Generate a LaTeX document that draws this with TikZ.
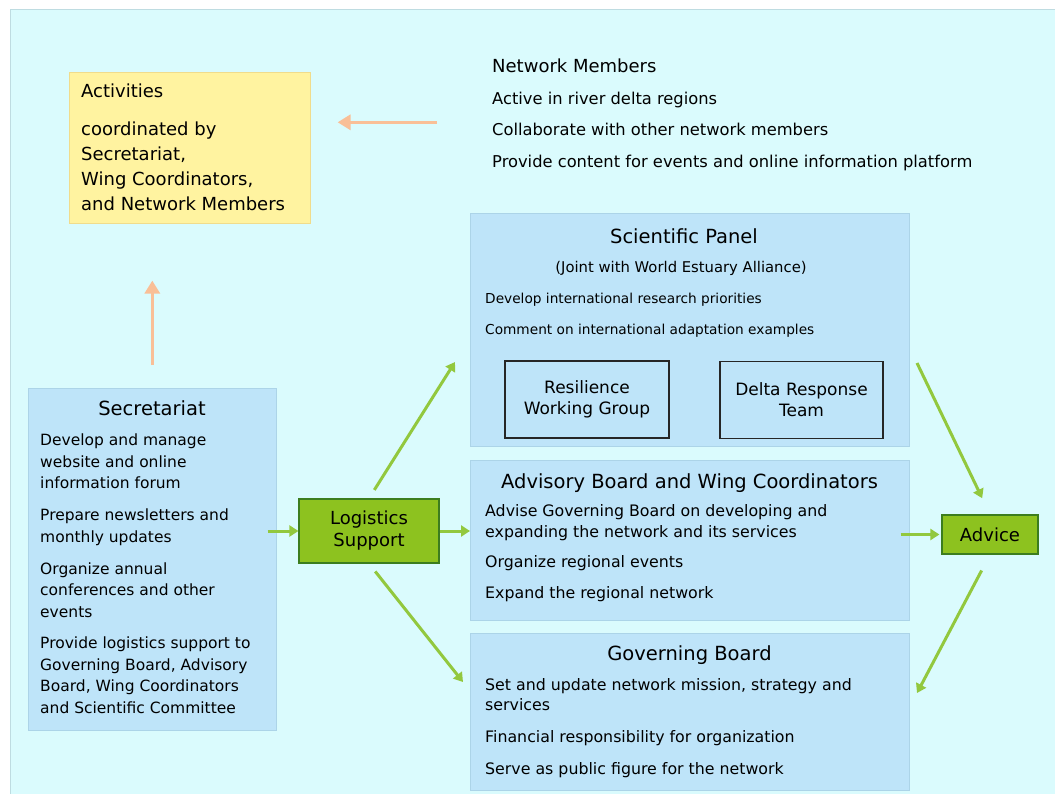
\documentclass[tikz,border=0pt]{standalone}
\usepackage{fontspec}
\setmainfont{DejaVu Sans}
\usetikzlibrary{arrows.meta}

\definecolor{bgcyan}{RGB}{218,251,253}
\definecolor{bgline}{RGB}{190,220,225}
\definecolor{boxblue}{RGB}{190,228,249}
\definecolor{boxedge}{RGB}{172,212,232}
\definecolor{actyellow}{RGB}{255,243,160}
\definecolor{actedge}{RGB}{240,220,140}
\definecolor{leafgreen}{RGB}{141,194,31}
\definecolor{darkleaf}{RGB}{60,125,30}
\definecolor{arrowgreen}{RGB}{146,200,62}
\definecolor{arroworange}{RGB}{249,191,151}

\newcommand{\titlesize}{\fontsize{19.5}{23}\selectfont}
\newcommand{\bodysize}{\fontsize{15.8}{21.5}\selectfont}

\begin{document}
\begin{tikzpicture}[x=1pt,y=-1pt,
    panel/.style={fill=boxblue, draw=boxedge, line width=0.6pt, anchor=north west, inner sep=0pt},
    greenbox/.style={fill=leafgreen, draw=darkleaf, line width=1.2pt, font=\fontsize{18}{22}\selectfont, align=center, inner sep=0pt},
    groupbox/.style={draw=black!85, line width=1.2pt, font=\fontsize{17}{21}\selectfont, align=center, inner sep=0pt, minimum width=164pt, minimum height=77pt},
    title/.style={font=\titlesize, inner sep=0pt},
    body/.style={font=\bodysize, align=left, anchor=north west, inner sep=0pt},
    garrow/.style={draw=arrowgreen, line width=3pt, -{Triangle[width=11pt,length=9pt]}},
    oarrow/.style={draw=arroworange, line width=3.5pt, -{Triangle[width=15pt,length=13pt]}}]

    \useasboundingbox (0,0) rectangle (1055,794);
    \fill[bgcyan] (10,10) rectangle (1055,794);
    \draw[bgline, line width=1pt] (10,794) -- (10,10) -- (1055,10);

    \node[fill=actyellow, draw=actedge, line width=0.6pt, anchor=north west, minimum width=241pt, minimum height=151pt] (activities) at (69,72) {};
    \node[body, font=\fontsize{18}{25}\selectfont] (acttext) at (81,84)
        {Activities\\[13pt]coordinated by\\Secretariat,\\Wing Coordinators,\\and Network Members};

    \node[body, font=\fontsize{16.3}{31.5}\selectfont] (members) at (492,59)
        {{\fontsize{18}{22}\selectfont Network Members}\\Active in river delta regions\\Collaborate with other network members\\Provide content for events and online information platform};

    \node[panel, minimum width=439pt, minimum height=233pt] (sciencepanel) at (470,213) {};
    \node[title] (sptitle) at (684,236) {Scientific Panel};
    \node[font=\fontsize{14.8}{18}\selectfont, inner sep=0pt] (spjoint) at (681,268) {(Joint with World Estuary Alliance)};
    \node[body, font=\fontsize{13.7}{31}\selectfont] (sptext) at (485,293)
        {Develop international research priorities\\Comment on international adaptation examples};
    \node[groupbox] (resilience) at (587,399.5) {Resilience\\Working Group};
    \node[groupbox, minimum width=163pt] (deltateam) at (801.5,400) {Delta Response\\Team};

    \node[panel, minimum width=439pt, minimum height=160pt] (advisory) at (470,460) {};
    \node[title] (adtitle) at (689.5,483) {Advisory Board and Wing Coordinators};
    \node[body] (adtext) at (485,504)
        {Advise Governing Board on developing and\\expanding the network and its services\\[8pt]Organize regional events\\[10pt]Expand the regional network};

    \node[panel, minimum width=439pt, minimum height=157pt] (governing) at (470,633) {};
    \node[title] (gbtitle) at (689.5,655) {Governing Board};
    \node[body, font=\fontsize{15.8}{20.5}\selectfont] (gbtext) at (485,678)
        {Set and update network mission, strategy and\\services\\[11.5pt]Financial responsibility for organization\\[11.5pt]Serve as public figure for the network};

    \node[panel, minimum width=248pt, minimum height=342pt] (secretariat) at (28,388) {};
    \node[title] (sectitle) at (152,408) {Secretariat};
    \node[body, font=\fontsize{15.5}{21.5}\selectfont] (sectext) at (40,434)
        {Develop and manage\\website and online\\information forum\\[10.5pt]Prepare newsletters and\\monthly updates\\[10.5pt]Organize annual\\conferences and other\\events\\[10pt]Provide logistics support to\\Governing Board, Advisory\\Board, Wing Coordinators\\and Scientific Committee};

    \node[greenbox, minimum width=140pt, minimum height=64pt] (logistics) at (369,531) {Logistics\\Support};
    \node[greenbox, minimum width=96pt, minimum height=39pt] (advice) at (990,534.5) {Advice};

    \coordinate (actin) at ([yshift=25.5pt]activities.east);
    \coordinate (spin) at (455,362);
    \coordinate (spout) at (917,363);
    \coordinate (gbin) at (917,693);
    \coordinate (gbtop) at (463,682);

    \draw[oarrow, shorten <=55pt, shorten >=27pt] (members.west |- actin) -- (actin);
    \draw[oarrow, shorten <=23pt, shorten >=57pt] (secretariat.north) -- (secretariat.north |- activities.south);

    \draw[garrow, shorten <=-9pt] (secretariat.east |- logistics.west) -- (logistics.west);
    \draw[garrow] (logistics.east) -- (logistics.east -| advisory.west);
    \draw[garrow, shorten <=10pt] (logistics.north) -- (spin);
    \draw[garrow, shorten <=10pt] (logistics.south) -- (gbtop);
    \draw[garrow, shorten <=-9pt, shorten >=2pt] (advice.west -| advisory.east) -- (advice.west);
    \draw[garrow, shorten >=18pt] (spout) -- (advice.north);
    \draw[garrow, shorten <=18pt] (advice.south) -- (gbin);
\end{tikzpicture}
\end{document}
